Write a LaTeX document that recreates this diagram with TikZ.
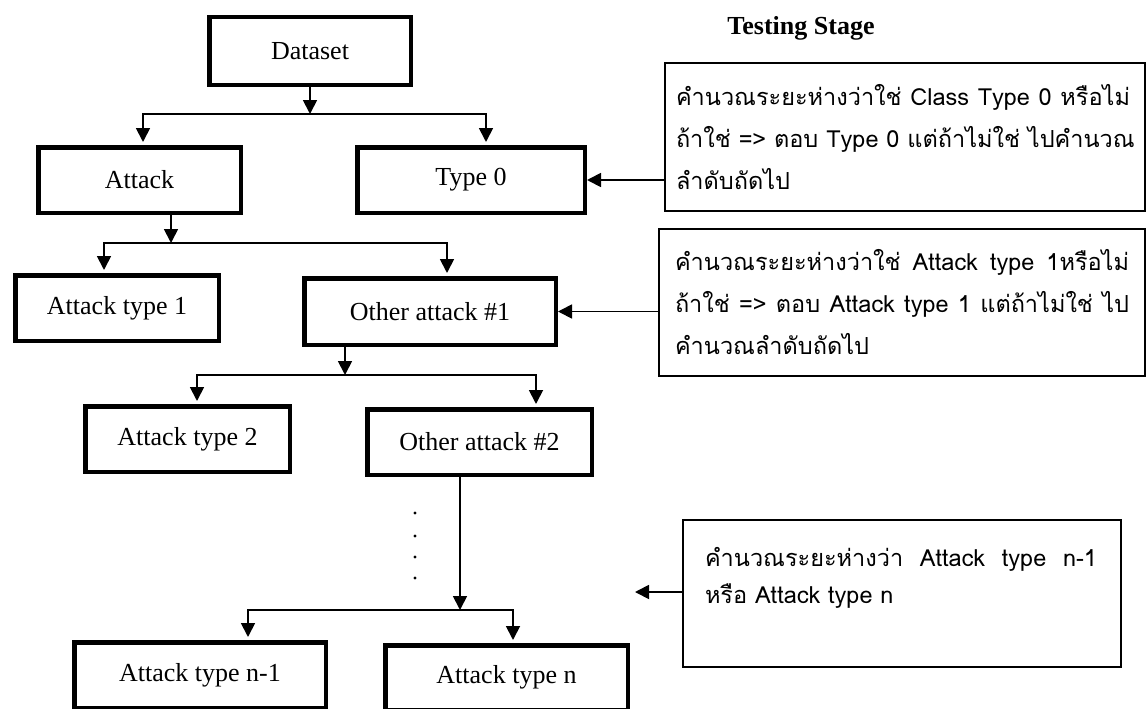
\documentclass[tikz,border=0pt]{standalone}
\usepackage{fontspec}
\setmainfont{Liberation Serif}
\newfontfamily\thaifont[Script=Thai]{Loma}
\usetikzlibrary{arrows.meta}
% one line of note text, its word gaps stretched to fill a given width
\newcommand\spreadline[2]{\makebox[#1][s]{\spaceskip=\fontdimen2\font plus 1fil\relax #2}}
\begin{document}
\begin{tikzpicture}[x=1pt,y=-1pt,
  treebox/.style={draw, line width=4.5pt, inner sep=0pt,
    font=\fontsize{26}{31}\selectfont},
  notebox/.style={draw, line width=2pt, inner sep=0pt, align=left,
    font=\thaifont\fontsize{23.5}{42}\selectfont},
  link/.style={line width=1.8pt},
  tip/.style={-{Triangle[length=14pt,width=14pt]}},
  arr/.style={link, tip},
  drop/.style={link, {Triangle[length=14pt,width=14pt]}-{Triangle[length=14pt,width=14pt]},
    shorten <=3pt, shorten >=3pt},
]
\useasboundingbox (0,0) rectangle (1148,709);

% decision tree boxes
\node[treebox, minimum width=201.5pt, minimum height=67.5pt] (ds)  at (310,51)    {Dataset};
\node[treebox, minimum width=202.5pt, minimum height=65.5pt] (atk) at (139.5,180) {Attack};
\node[treebox, minimum width=227.5pt, minimum height=65.5pt] (t0)  at (471,180)   {Type 0};
\node[treebox, minimum width=203.5pt, minimum height=65.5pt] (at1) at (117,308)   {Attack type 1};
\node[treebox, minimum width=251.5pt, minimum height=66.5pt] (oa1) at (430,311.5) {Other attack \#1};
\node[treebox, minimum width=204.5pt, minimum height=65.5pt] (at2) at (187.5,439) {Attack type 2};
\node[treebox, minimum width=224.5pt, minimum height=65.5pt] (oa2) at (479.5,442) {Other attack \#2};
\node[treebox, minimum width=251.5pt, minimum height=65.5pt] (atn1) at (200,675)  {Attack type n-1};
\node[treebox, minimum width=242.5pt, minimum height=64.5pt] (atn) at (506.5,677.5) {Attack type n};

% title
\node[font=\bfseries\fontsize{26}{31}\selectfont] (title) at (801,28) {Testing Stage};

% explanation boxes
\node[notebox, minimum width=480pt, minimum height=148pt, text width=458pt] (b1) at (905,137)
  {\spreadline{454pt}{คำนวณระยะห่างว่าใช่ Class Type 0 หรือไม่}\\
   \spreadline{454pt}{ถ้าใช่ => ตอบ Type 0 แต่ถ้าไม่ใช่ ไปคำนวณ}\\
   \mbox{ลำดับถัดไป}};
\node[notebox, minimum width=486pt, minimum height=147pt, text width=454pt] (b2) at (902,302.5)
  {\spreadline{454pt}{คำนวณระยะห่างว่าใช่ Attack type 1หรือไม่}\\
   \spreadline{454pt}{ถ้าใช่ => ตอบ Attack type 1 แต่ถ้าไม่ใช่ ไป}\\
   \mbox{คำนวณลำดับถัดไป}};
\node[notebox, minimum width=438pt, minimum height=147pt, text width=394pt,
      font=\thaifont\fontsize{23.5}{37}\selectfont] (b3) at (902,593.5)
  {\spreadline{392pt}{คำนวณระยะห่างว่า Attack type n-1}\\
   \mbox{หรือ Attack type n}\\
   \mbox{}};

% bus points
\coordinate (s1l) at (143,114);  \coordinate (s1r) at (486,114);
\coordinate (s2)  at (171,243);
\coordinate (s2l) at (104,243);  \coordinate (s2r) at (447,243);
\coordinate (s3)  at (345,375);
\coordinate (s3l) at (197,375);  \coordinate (s3r) at (536,375);
\coordinate (s4)  at (460,610);
\coordinate (s4l) at (248,610);  \coordinate (s4r) at (513,610);
\coordinate (b3tip) at (635,592);

% Dataset -> Attack / Type 0
\draw[arr] (ds.south) -- (ds.south |- s1l);
\draw[drop] (s1l |- atk.north) -- (s1l) -- (s1r) -- (s1r |- t0.north);

% Attack -> Attack type 1 / Other attack #1
\draw[arr] (s2 |- atk.south) -- (s2);
\draw[drop] (s2l |- at1.north) -- (s2l) -- (s2r) -- (s2r |- oa1.north);

% Other attack #1 -> Attack type 2 / Other attack #2
\draw[arr] (s3 |- oa1.south) -- (s3);
\draw[drop] (s3l |- at2.north) -- (s3l) -- (s3r) -- (s3r |- oa2.north);

% Other attack #2 -> Attack type n-1 / Attack type n
\draw[arr] (s4 |- oa2.south) -- (s4);
\draw[drop] (s4l |- atn1.north) -- (s4l) -- (s4r) -- (s4r |- atn.north);

% continuation dots
\foreach \yy in {513,536,557,578} \fill (415,\yy) circle (1.7pt);

% explanation arrows
\draw[arr] (b1.west |- t0.east) -- (t0.east);
\draw[arr] (b2.west |- oa1.east) -- (oa1.east);
\draw[arr] (b3.west |- b3tip) -- (b3tip);
\end{tikzpicture}
\end{document}
